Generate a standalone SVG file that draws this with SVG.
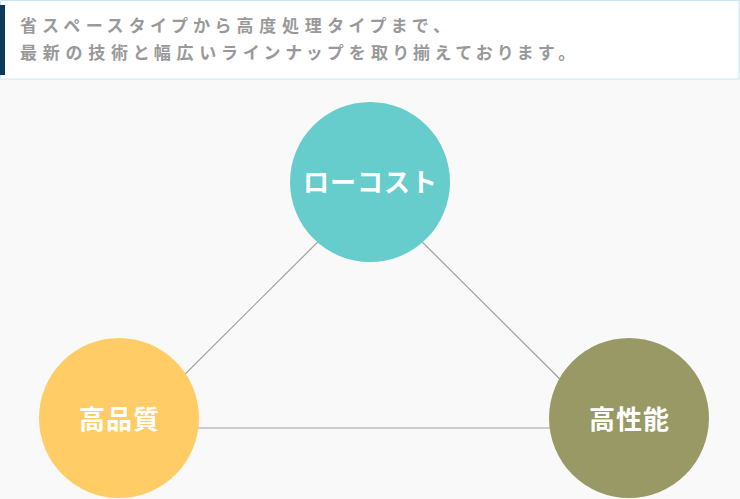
<svg xmlns="http://www.w3.org/2000/svg" width="740" height="499" viewBox="0 0 740 499">
<style>
.hd{font-family:"Noto Sans CJK JP","Noto Sans",sans-serif;font-size:17px;font-weight:bold;fill:#999999;letter-spacing:5.8px;font-feature-settings:"palt";}
.lb{font-family:"Noto Sans CJK JP","Noto Sans",sans-serif;font-size:26px;font-weight:bold;fill:#ffffff;text-anchor:middle;letter-spacing:1px;}
.ln{stroke:#a0a0a0;stroke-width:1.2;fill:none;}
</style>
<rect x="0" y="0" width="740" height="499" fill="#f9f9f9"/>
<g id="header">
<rect x="0.5" y="0.5" width="738.5" height="78.5" fill="#ffffff" stroke="#c8e6f4" stroke-width="1"/>
<rect x="0" y="5" width="5" height="70" fill="#0b3a5a"/>
<text class="hd" x="20" y="32">省スペースタイプから高度処理タイプまで、</text>
<text class="hd" x="20" y="59">最新の技術と幅広いラインナップを取り揃えております。</text>
</g>
<g id="connectors">
<polygon class="ln" points="370,190 131,428 609,428"/>
</g>
<g id="node-lowcost">
<circle cx="370" cy="182" r="80" fill="#66cccc"/>
<text class="lb" x="370.5" y="192">ローコスト</text>
</g>
<g id="node-quality">
<circle cx="119" cy="418" r="80" fill="#ffcc66"/>
<text class="lb" x="119.5" y="429">高品質</text>
</g>
<g id="node-performance">
<circle cx="629" cy="418" r="80" fill="#999966"/>
<text class="lb" x="629.5" y="429">高性能</text>
</g>
</svg>
